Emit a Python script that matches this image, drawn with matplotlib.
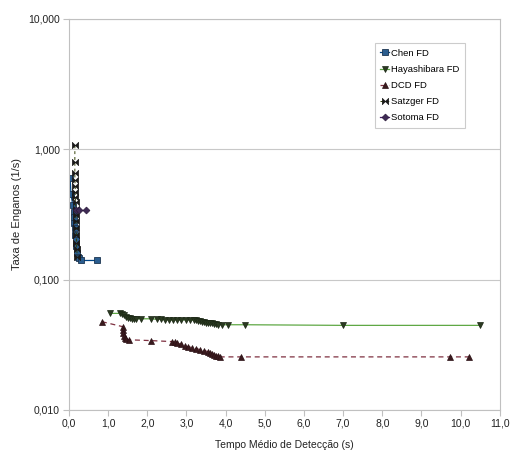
import numpy as np
import matplotlib
matplotlib.use('Agg')
from matplotlib import pyplot as plt
from matplotlib.path import Path
from matplotlib.ticker import FixedLocator, FixedFormatter

plt.rcParams['font.family'] = ['Liberation Sans', 'DejaVu Sans']

# Chen FD
chen_x = [0.03, 0.05, 0.10, 0.12, 0.13, 0.14, 0.15, 0.16, 0.17, 0.18, 0.20, 0.22, 0.25, 0.30, 0.71]
chen_y = [0.60, 0.45, 0.37, 0.33, 0.30, 0.27, 0.25, 0.22, 0.20, 0.18, 0.16, 0.15, 0.145, 0.14, 0.14]

# Hayashibara FD
haya_x = [1.05, 1.30, 1.35, 1.40, 1.45, 1.50, 1.55, 1.60, 1.65, 1.70, 1.85, 2.10, 2.25, 2.35,
          2.45, 2.55, 2.65, 2.75, 2.85, 3.00, 3.10, 3.20, 3.25, 3.30, 3.35, 3.40, 3.45, 3.50,
          3.55, 3.60, 3.65, 3.70, 3.75, 3.80, 3.90, 4.05, 4.50, 7.00, 10.50]
haya_y = [0.055, 0.055, 0.054, 0.053, 0.052, 0.051, 0.0505, 0.050, 0.050, 0.050, 0.050, 0.050,
          0.0495, 0.0495, 0.049, 0.049, 0.049, 0.049, 0.049, 0.049, 0.049, 0.0488, 0.0485,
          0.048, 0.0478, 0.0475, 0.047, 0.0468, 0.0465, 0.046, 0.046, 0.0455, 0.0455, 0.045,
          0.045, 0.045, 0.045, 0.0445, 0.0445]

# DCD FD
dcd_x = [0.84, 1.37, 1.38, 1.39, 1.40, 1.42, 1.45, 1.52, 2.10, 2.64, 2.70, 2.75, 2.85, 2.95,
         3.05, 3.15, 3.25, 3.35, 3.45, 3.55, 3.60, 3.65, 3.70, 3.75, 3.80, 3.85, 4.39, 9.73, 10.22]
dcd_y = [0.0475, 0.0435, 0.041, 0.039, 0.037, 0.0355, 0.035, 0.0345, 0.034, 0.0334, 0.033,
         0.0325, 0.032, 0.031, 0.0305, 0.030, 0.0295, 0.029, 0.0285, 0.028, 0.0275, 0.027,
         0.0265, 0.026, 0.0258, 0.0255, 0.0255, 0.0255, 0.0255]

# Satzger FD
satz_x = [0.15, 0.15, 0.15, 0.15, 0.16, 0.16, 0.16, 0.17, 0.17, 0.17, 0.18, 0.18, 0.19, 0.19, 0.20, 0.21]
satz_y = [1.07, 0.80, 0.66, 0.58, 0.52, 0.47, 0.43, 0.39, 0.35, 0.31, 0.28, 0.25, 0.22, 0.19, 0.17, 0.15]

# Sotoma FD
soto_x = [0.18, 0.25, 0.43]
soto_y = [0.34, 0.34, 0.34]

yticks = [0.01, 0.1, 1, 10]
ytick_labels = ['0,010', '0,100', '1,000', '10,000']
xticks = list(range(0, 12))
xtick_labels = ['%d,0' % v for v in xticks]


def main():
	fig = plt.figure(figsize=(5.11, 4.59), dpi=100)
	ax = fig.add_axes([0.135, 0.107, 0.843, 0.852])

	# bowtie marker for Satzger
	bowtie = Path([(-1, -1), (-1, 1), (0, 0), (1, 1), (1, -1), (0, 0), (-1, -1)],
				  [Path.MOVETO] + [Path.LINETO] * 5 + [Path.CLOSEPOLY])

	ax.plot(chen_x, chen_y, color='#004586', lw=0.9, marker='s', ms=4.5,
			mfc='#2a5d8f', mec='#1c3550', mew=0.6, label='Chen FD')
	ax.plot(haya_x, haya_y, color='#5fa845', lw=0.9, marker='v', ms=4,
			mfc='#2b3a22', mec='#1a2614', mew=0.5, label='Hayashibara FD')
	ax.plot(dcd_x, dcd_y, color='#7e3040', lw=0.9, ls=(0, (4, 3)), marker='^', ms=4,
			mfc='#3a1a1e', mec='#2a1014', mew=0.5, label='DCD FD')
	ax.plot(satz_x, satz_y, color='#314004', lw=0.7, ls=(0, (3, 3)), marker=bowtie, ms=4.5,
			mfc='#1a1a1a', mec='#1a1a1a', mew=0.5, label='Satzger FD')
	ax.plot(soto_x, soto_y, color='#4b1f6f', lw=0.9, marker='D', ms=3.5,
			mfc='#3e2a55', mec='#2a1a3a', mew=0.5, label='Sotoma FD')

	ax.set_yscale('log')
	ax.set_ylim(0.01, 10)
	ax.set_xlim(0, 11)
	ax.yaxis.set_major_locator(FixedLocator(yticks))
	ax.yaxis.set_major_formatter(FixedFormatter(ytick_labels))
	ax.yaxis.set_minor_locator(FixedLocator([]))
	ax.set_xticks(xticks)
	ax.set_xticklabels(xtick_labels)

	ax.grid(axis='y', color='#c8c8c8', lw=0.8)
	for s in ax.spines.values():
		s.set_color('#c0c0c0')
		s.set_linewidth(0.8)
	ax.tick_params(axis='both', colors='#c0c0c0', labelcolor='#222222',
				   labelsize=7.5, length=4, width=0.8, pad=2.5)

	ax.set_xlabel('Tempo Médio de Detecção (s)', fontsize=7.5, color='#222222', labelpad=8)
	ax.set_ylabel('Taxa de Enganos (1/s)', fontsize=8, color='#222222')
	ax.yaxis.set_label_coords(-0.11, 0.5)

	leg = ax.legend(loc='upper right', bbox_to_anchor=(0.93, 0.95), fontsize=6.8,
					frameon=True, fancybox=False, handlelength=0.9, handletextpad=0.2,
					borderpad=0.6, labelspacing=0.75, markerscale=1.0)
	leg.get_frame().set_edgecolor('#c0c0c0')
	leg.get_frame().set_linewidth(0.8)

	plt.savefig('out.png', dpi=100)


if __name__ == '__main__':
	main()
